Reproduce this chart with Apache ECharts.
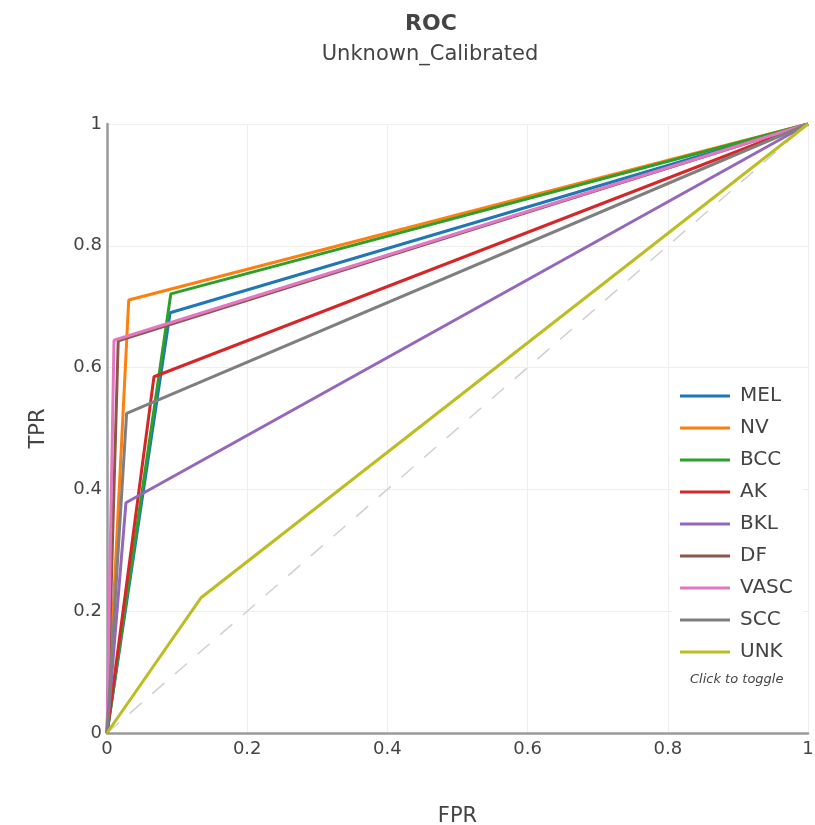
<!DOCTYPE html>
<html><head><meta charset="utf-8">
<script src="https://cdn.jsdelivr.net/npm/echarts@6/dist/echarts.min.js"></script>
<style>html,body{margin:0;padding:0;background:#fff}#c{width:815px;height:825px}</style>
</head><body><div id="c"></div>
<script>
const seriesNames = ['MEL','NV','BCC','AK','BKL','DF','VASC','SCC','UNK'];
const colors = ['#1f77b4','#ff7f0e','#2ca02c','#d62728','#9467bd','#8c564b','#e377c2','#7f7f7f','#bcbd22'];
const kneeFPR = [0.090, 0.031, 0.091, 0.067, 0.027, 0.016, 0.010, 0.028, 0.134];
const kneeTPR = [0.690, 0.711, 0.721, 0.585, 0.378, 0.644, 0.645, 0.525, 0.222];
const axisTicks = [0, 0.2, 0.4, 0.6, 0.8, 1];
const diagonal = [[0,0],[1,1]];

const FONT = 'DejaVu Sans';
const chart = echarts.init(document.getElementById('c'), null, {renderer:'canvas'});
const series = [{
  name: 'chance', type: 'line', data: diagonal, symbol: 'none', silent: true,
  lineStyle: {color: '#d0d0d0', width: 1.5, type: [16, 14]}, z: 1
}];
seriesNames.forEach((n, i) => {
  series.push({
    name: n, type: 'line', symbol: 'none',
    data: [[0,0],[kneeFPR[i], kneeTPR[i]],[1,1]],
    lineStyle: {color: colors[i], width: 3}, itemStyle: {color: colors[i]}, z: 2 + i
  });
});
chart.setOption({
  animation: false,
  textStyle: {fontFamily: FONT},
  title: [{
    text: 'ROC', left: 426, top: 8, textAlign: 'center',
    textStyle: {fontFamily: FONT, fontSize: 22, fontWeight: 'bold', color: '#444'}
  },{
    text: 'Unknown_Calibrated', left: 425, top: 39, textAlign: 'center',
    textStyle: {fontFamily: FONT, fontSize: 21, fontWeight: 'normal', color: '#444'}
  }],
  grid: {left: 107, right: 7, top: 124, bottom: 92, containLabel: false, outerBoundsMode: 'none'},
  xAxis: {
    type: 'value', min: 0, max: 1, interval: 0.2,
    name: 'FPR', nameLocation: 'middle', nameGap: 73,
    nameTextStyle: {fontFamily: FONT, fontSize: 21, color: '#444'},
    axisLine: {show: true, onZero: false, lineStyle: {color: '#9a9a9a', width: 2.5}},
    axisTick: {show: false},
    axisLabel: {fontFamily: FONT, fontSize: 18, color: '#444', margin: 7,
      formatter: v => axisTicks.includes(+v.toFixed(1)) ? String(+v.toFixed(1)) : ''},
    splitLine: {show: true, lineStyle: {color: '#eeeeee', width: 1}}
  },
  yAxis: {
    type: 'value', min: 0, max: 1, interval: 0.2,
    name: 'TPR', nameLocation: 'middle', nameGap: 58,
    nameTextStyle: {fontFamily: FONT, fontSize: 21, color: '#444'},
    axisLine: {show: true, onZero: false, lineStyle: {color: '#9a9a9a', width: 2.5}},
    axisTick: {show: false},
    axisLabel: {fontFamily: FONT, fontSize: 18, color: '#444', margin: 5,
      formatter: v => String(+v.toFixed(1))},
    splitLine: {show: true, lineStyle: {color: '#eeeeee', width: 1}}
  },
  legend: {
    data: seriesNames, orient: 'vertical', left: 672, top: 380,
    backgroundColor: '#ffffff', padding: [6, 10, 6, 8],
    itemWidth: 50, itemHeight: 3, itemGap: 12, icon: 'rect',
    textStyle: {fontFamily: FONT, fontSize: 20, color: '#444', padding: [0, 0, 0, 5]}
  },
  graphic: [{
    type: 'text', left: 690, top: 673,
    style: {text: 'Click to toggle', fontFamily: FONT, fontSize: 13, fontStyle: 'italic', fill: '#444'}
  }],
  series: series
});
</script></body></html>
